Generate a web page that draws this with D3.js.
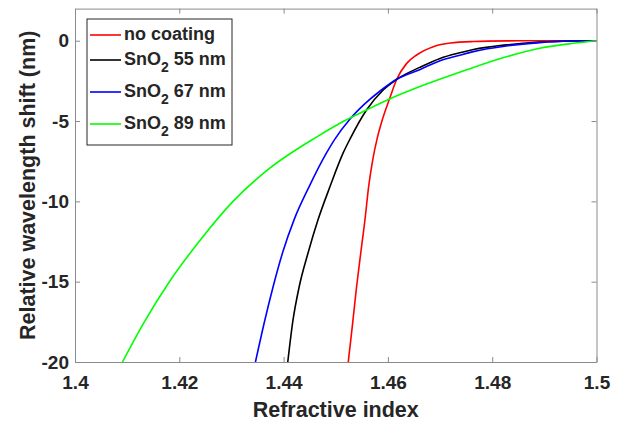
<!DOCTYPE html>
<html>
<head>
<meta charset="utf-8">
<script src="https://cdn.jsdelivr.net/npm/d3@7"></script>
<style>
  body { margin: 0; background: #fff; }
  svg text { font-family: "Liberation Sans", Arial, sans-serif; font-weight: bold; fill: #262626; }
</style>
</head>
<body>
<div id="chart"></div>
<script>
// refractive index / relative wavelength shift (nm)
const noCoating = [
  [1.4524, -20], [1.4532, -17.7], [1.4540, -15.3], [1.4548, -13.2], [1.4556, -11.15],
  [1.4563, -9.1], [1.4571, -7.4], [1.4579, -6.14], [1.4590, -4.85], [1.4603, -3.63],
  [1.4617, -2.4], [1.4636, -1.41], [1.4655, -0.89], [1.4687, -0.37], [1.4720, -0.14],
  [1.4764, -0.05], [1.4830, -0.01], [1.4900, 0], [1.5, 0]
];
const sno2_55 = [
  [1.4408, -20], [1.4418, -17.4], [1.4430, -15.3], [1.4447, -13.2], [1.4466, -11.15],
  [1.4489, -9.08], [1.4514, -7.0], [1.4527, -6.14], [1.4559, -4.31], [1.4591, -3.07],
  [1.4617, -2.4], [1.4661, -1.66], [1.4700, -1.1], [1.4738, -0.75], [1.4764, -0.55],
  [1.4827, -0.26], [1.4891, -0.09], [1.4955, -0.02], [1.5, 0]
];
const sno2_67 = [
  [1.4346, -20], [1.4364, -17.4], [1.4380, -15.3], [1.4398, -13.2], [1.4420, -11.15],
  [1.4449, -9.08], [1.4482, -7.0], [1.4498, -6.14], [1.4527, -4.89], [1.4555, -3.95],
  [1.4585, -3.13], [1.4617, -2.4], [1.4661, -1.8], [1.4700, -1.25], [1.4738, -0.9],
  [1.4764, -0.68], [1.4827, -0.33], [1.4891, -0.12], [1.4955, -0.02], [1.5, 0]
];
const sno2_89 = [
  [1.4091, -20], [1.4133, -17.5], [1.4181, -15], [1.4238, -12.5], [1.4303, -10],
  [1.4371, -8], [1.4463, -6], [1.4516, -5], [1.4559, -4.31], [1.4603, -3.63],
  [1.4674, -2.7], [1.4743, -1.9], [1.4827, -1.0], [1.4891, -0.47], [1.4955, -0.16],
  [1.5, 0]
];
const seriesNames = ["no coating", "SnO2 55 nm", "SnO2 67 nm", "SnO2 89 nm"];
const seriesColors = ["#ff0000", "#000000", "#0000ff", "#00ff00"];
const xTicks = [1.4, 1.42, 1.44, 1.46, 1.48, 1.5];
const yTicks = [-20, -15, -10, -5, 0];

const allSeries = [noCoating, sno2_55, sno2_67, sno2_89];

const width = 620, height = 426;
const margin = { top: 8.6, right: 23.5, bottom: 64, left: 75 };
const iw = width - margin.left - margin.right;
const ih = height - margin.top - margin.bottom;

const svg = d3.select("#chart").append("svg")
  .attr("width", width)
  .attr("height", height);

const g = svg.append("g")
  .attr("transform", `translate(${margin.left},${margin.top})`);

const x = d3.scaleLinear().domain([1.4, 1.5]).range([0, iw]);
const y = d3.scaleLinear().domain([-20, 2]).range([ih, 0]);

g.append("clipPath").attr("id", "plotclip")
  .append("rect").attr("width", iw).attr("height", ih);

const line = d3.line()
  .x(d => x(d[0]))
  .y(d => y(d[1]))
  .curve(d3.curveMonotoneX);

g.append("g").attr("clip-path", "url(#plotclip)")
  .selectAll("path")
  .data(allSeries)
  .join("path")
  .attr("fill", "none")
  .attr("stroke", (d, i) => seriesColors[i])
  .attr("stroke-width", 1.6)
  .attr("d", line);

// axes, ticks pointing inwards on all four sides
const axisColor = "#8a8a8a";
const fmtX = d => String(+d.toFixed(2));

g.append("g").attr("transform", `translate(0,${ih})`)
  .call(d3.axisBottom(x).tickValues(xTicks).tickFormat(fmtX).tickSize(-5).tickSizeOuter(0).tickPadding(13.5));
g.append("g")
  .call(d3.axisLeft(y).tickValues(yTicks).tickFormat(d => String(d)).tickSize(-5).tickSizeOuter(0).tickPadding(6));
g.append("g")
  .call(d3.axisTop(x).tickValues(xTicks).tickFormat("").tickSize(-5).tickSizeOuter(0));
g.append("g").attr("transform", `translate(${iw},0)`)
  .call(d3.axisRight(y).tickValues(yTicks).tickFormat("").tickSize(-5).tickSizeOuter(0));

g.selectAll(".domain, .tick line").attr("stroke", axisColor);
g.selectAll(".tick text").attr("font-size", 19).attr("fill", "#262626")
  .style("font-family", "'Liberation Sans', Arial, sans-serif").style("font-weight", "bold");

// axis titles
svg.append("text")
  .attr("x", margin.left + iw / 2)
  .attr("y", 417)
  .attr("text-anchor", "middle")
  .attr("font-size", 21.5)
  .text("Refractive index");

svg.append("text")
  .attr("transform", `translate(35,${margin.top + ih / 2}) rotate(-90)`)
  .attr("text-anchor", "middle")
  .attr("font-size", 21.5)
  .text("Relative wavelength shift (nm)");

// legend
const legend = svg.append("g");
legend.append("rect")
  .attr("x", 87).attr("y", 19)
  .attr("width", 145).attr("height", 126)
  .attr("fill", "#fff")
  .attr("stroke", "#262626")
  .attr("stroke-width", 1);

const rowBase = [40, 65, 97, 129];
seriesNames.forEach((name, i) => {
  const by = rowBase[i];
  legend.append("line")
    .attr("x1", 90).attr("x2", 121)
    .attr("y1", by - 5).attr("y2", by - 5)
    .attr("stroke", seriesColors[i]).attr("stroke-width", 1.6);
  const t = legend.append("text")
    .attr("x", 124).attr("y", by)
    .attr("font-size", 18);
  const m = name.match(/^(SnO)2(.*)$/);
  if (m) {
    t.append("tspan").text(m[1]);
    t.append("tspan").attr("dy", 7).attr("font-size", 14).text("2");
    t.append("tspan").attr("dy", -7).text(m[2]);
  } else {
    t.text(name);
  }
});
</script>
</body>
</html>
